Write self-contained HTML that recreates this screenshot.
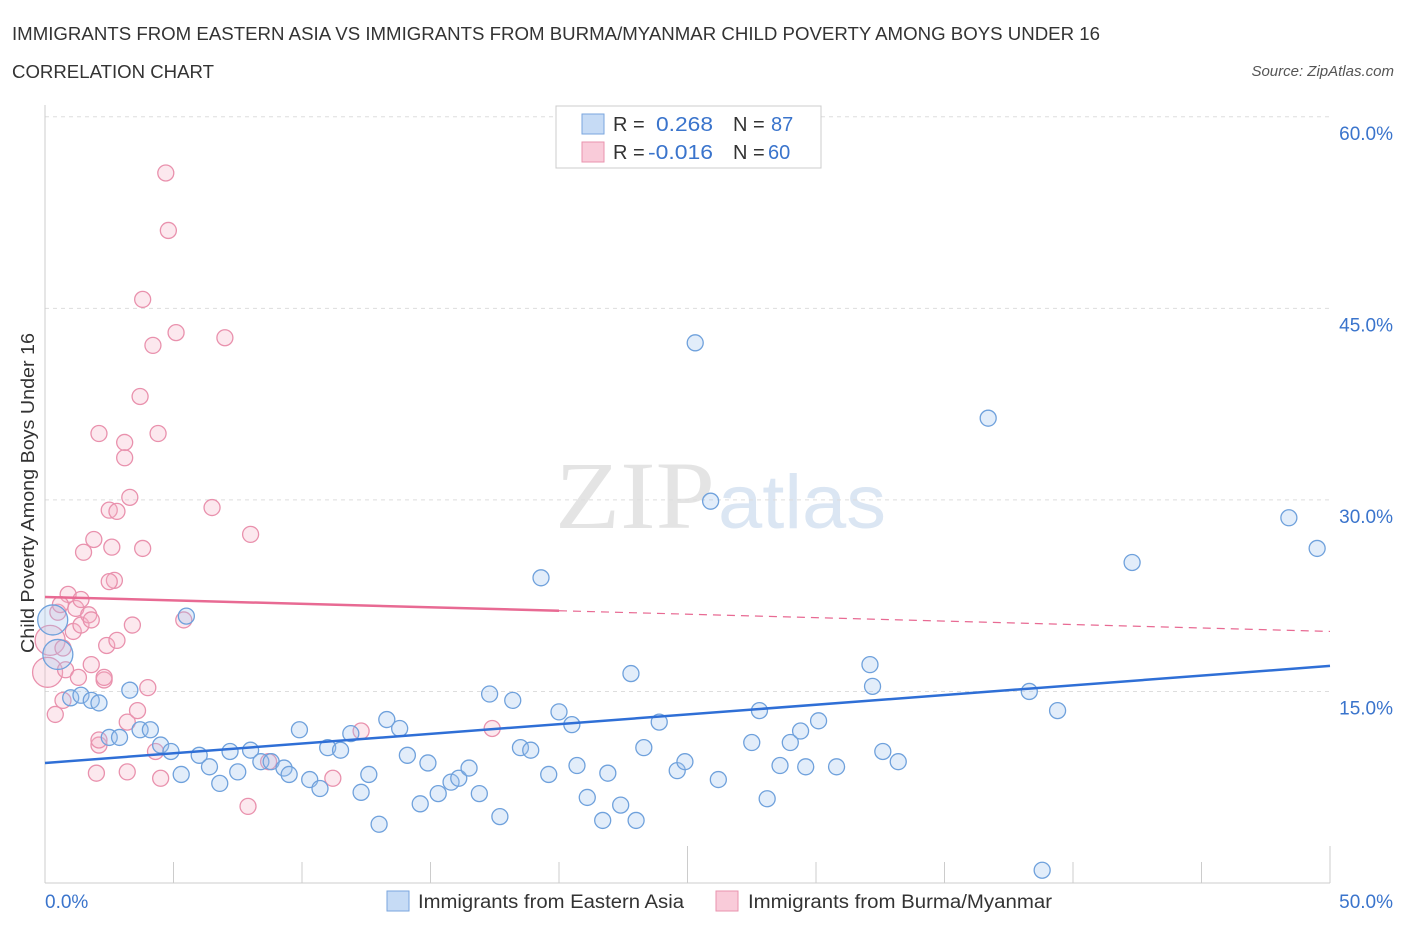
<!DOCTYPE html>
<html><head><meta charset="utf-8"><style>
body{margin:0;background:#fff;font-family:"Liberation Sans",sans-serif;}
</style></head><body>
<svg id="chart" width="1406" height="930" xmlns="http://www.w3.org/2000/svg" font-family="Liberation Sans, sans-serif">
<text x="12" y="40" font-size="18" fill="#333" textLength="1088" lengthAdjust="spacingAndGlyphs">IMMIGRANTS FROM EASTERN ASIA VS IMMIGRANTS FROM BURMA/MYANMAR CHILD POVERTY AMONG BOYS UNDER 16</text>
<text x="12" y="78" font-size="18" fill="#333" textLength="202" lengthAdjust="spacingAndGlyphs">CORRELATION CHART</text>
<text x="1394" y="76" font-size="15" fill="#555" font-style="italic" text-anchor="end">Source: ZipAtlas.com</text>
<text x="555" y="528" font-size="96" fill="#e4e4e4" font-family="Liberation Serif, serif" textLength="160" lengthAdjust="spacingAndGlyphs">ZIP</text>
<text x="718" y="528" font-size="76" fill="#dbe6f3" textLength="168" lengthAdjust="spacingAndGlyphs">atlas</text>
<text transform="translate(34,493) rotate(-90)" font-size="18" fill="#333" text-anchor="middle" textLength="320" lengthAdjust="spacingAndGlyphs">Child Poverty Among Boys Under 16</text>
<g id="grid"></g><g id="axes"></g><g id="pts"></g><g id="trend"></g>
<g>
<rect x="556" y="106" width="265" height="62" fill="#fff" stroke="#ccc"/>
<rect x="582" y="114" width="22" height="20" fill="#c6dbf5" stroke="#7aa6de"/>
<text x="613" y="131" font-size="20" fill="#333">R =</text><text x="656" y="131" font-size="20" fill="#3a74cc" textLength="57" lengthAdjust="spacingAndGlyphs">0.268</text>
<text x="733" y="131" font-size="20" fill="#333">N =</text><text x="771" y="131" font-size="20" fill="#3a74cc">87</text>
<rect x="582" y="142" width="22" height="20" fill="#f9cbd9" stroke="#e993ae"/>
<text x="613" y="159" font-size="20" fill="#333">R =</text><text x="648" y="159" font-size="20" fill="#3a74cc" textLength="65" lengthAdjust="spacingAndGlyphs">-0.016</text>
<text x="733" y="159" font-size="20" fill="#333">N =</text><text x="768" y="159" font-size="20" fill="#3a74cc">60</text>
</g>
<g>
<rect x="387" y="891" width="22" height="20" fill="#c6dbf5" stroke="#7aa6de"/>
<text x="418" y="908" font-size="19" fill="#333" textLength="266" lengthAdjust="spacingAndGlyphs">Immigrants from Eastern Asia</text>
<rect x="716" y="891" width="22" height="20" fill="#f9cbd9" stroke="#e993ae"/>
<text x="748" y="908" font-size="19" fill="#333" textLength="304" lengthAdjust="spacingAndGlyphs">Immigrants from Burma/Myanmar</text>
</g>
</svg>
<script>
const blueX=[0.3,0.5,1.0,1.4,1.8,2.1,2.5,2.9,3.3,3.7,4.1,4.5,4.9,5.3,5.5,6.0,6.4,6.8,7.2,7.5,8.0,8.4,8.8,9.3,9.5,9.9,10.3,10.7,11.0,11.5,11.9,12.3,12.6,13.0,13.3,13.8,14.1,14.6,14.9,15.3,15.8,16.1,16.5,16.9,17.3,17.7,18.2,18.5,18.9,19.3,19.6,20.0,20.5,20.7,21.1,21.7,21.9,22.4,22.8,23.0,23.3,23.9,24.6,24.9,25.3,25.9,26.2,27.5,27.8,28.1,28.6,29.0,29.4,29.6,30.1,30.8,32.1,32.2,32.6,33.2,36.7,38.3,38.8,39.4,42.3,48.4,49.5];
const blueY=[20.6,17.9,14.5,14.7,14.3,14.1,11.4,11.4,15.1,12.0,12.0,10.8,10.3,8.5,20.9,10.0,9.1,7.8,10.3,8.7,10.4,9.5,9.5,9.0,8.5,12.0,8.1,7.4,10.6,10.4,11.7,7.1,8.5,4.6,12.8,12.1,10.0,6.2,9.4,7.0,7.9,8.2,9.0,7.0,14.8,5.2,14.3,10.6,10.4,23.9,8.5,13.4,12.4,9.2,6.7,4.9,8.6,6.1,16.4,4.9,10.6,12.6,8.8,9.5,42.3,29.9,8.1,11.0,13.5,6.6,9.2,11.0,11.9,9.1,12.7,9.1,17.1,15.4,10.3,9.5,36.4,15.0,1.0,13.5,25.1,28.6,26.2];
const pinkX=[0.2,0.1,0.4,0.5,0.7,0.8,0.9,1.1,1.2,1.3,1.4,1.5,1.7,1.8,1.8,1.9,2.0,2.1,2.1,2.3,2.3,2.4,2.5,2.6,2.7,2.8,2.8,3.1,3.1,3.2,3.2,3.3,3.4,3.6,3.7,3.8,3.8,4.0,4.2,4.3,4.4,4.5,4.7,4.8,5.1,5.4,6.5,7.0,7.9,8.0,8.7,11.2,12.3,17.4,1.4,0.6,2.5,2.1,0.7];
const pinkY=[19.0,16.5,13.2,21.2,18.4,16.7,22.6,19.7,21.5,16.1,20.2,25.9,21.0,20.6,17.1,26.9,8.6,10.8,35.2,15.9,16.1,18.6,29.2,26.3,23.7,19.0,29.1,34.5,33.3,12.6,8.7,30.2,20.2,13.5,38.1,45.7,26.2,15.3,42.1,10.3,35.2,8.2,55.6,51.1,43.1,20.6,29.4,42.7,6.0,27.3,9.5,8.2,11.9,12.1,22.2,21.8,23.6,11.2,14.3];
const blueTrend=[9.4,17.0];
const pinkTrend=[22.4,19.7];
const xTicks=[0,50];
const yTicks=[15,30,45,60];
const NS='http://www.w3.org/2000/svg';
const X=v=>45+v*25.7, Y=v=>883-v*12.77;
function mk(t,a,p){const e=document.createElementNS(NS,t);for(const k in a)e.setAttribute(k,a[k]);document.getElementById(p).appendChild(e);return e;}
yTicks.forEach(v=>{
 const l=mk('line',{x1:45,x2:1330,y1:Y(v),y2:Y(v),stroke:'#ddd','stroke-dasharray':'4,4'},'grid');
 
 
 const t=mk('text',{x:1393,y:Y(v)+23,'font-size':19,fill:'#3a74cc','text-anchor':'end'},'axes');t.textContent=v.toFixed(1)+'%';
 
 
});
mk('line',{x1:45,x2:45,y1:105,y2:883,stroke:'#ccc'},'axes');
mk('line',{x1:45,x2:1330,y1:883,y2:883,stroke:'#ccc'},'axes');
for(let i=0;i<=10;i++){const l=mk('line',{x1:X(i*5),x2:X(i*5),y1:i%5==0?846:862,y2:883,stroke:'#ccc'},'axes');
 
 }
xTicks.forEach((v,i)=>{const t=mk('text',{x:i?1393:45,y:908,'font-size':19,fill:'#3a74cc','text-anchor':i?'end':'start'},'axes');t.textContent=v.toFixed(1)+'%';
 
 });
function pts(xs,ys,fill,stroke,name){xs.forEach((x,i)=>{const c=mk('circle',{cx:X(x),cy:Y(ys[i]),r:i<2?15:8,fill:fill,stroke:stroke,'stroke-width':1.3},'pts');
 
 });}
pts(pinkX,pinkY,'rgba(246,180,200,0.3)','#e991ad','pink-point');
pts(blueX,blueY,'rgba(160,195,240,0.3)','#6fa1dc','blue-point');
const bl=mk('line',{x1:X(0),y1:Y(blueTrend[0]),x2:X(50),y2:Y(blueTrend[1]),stroke:'#2f6fd6','stroke-width':2.5},'trend');


const pm=v=>pinkTrend[0]+(pinkTrend[1]-pinkTrend[0])*v/50;
const pl=mk('line',{x1:X(0),y1:Y(pm(0)),x2:X(20),y2:Y(pm(20)),stroke:'#e86a93','stroke-width':2.5},'trend');


const pd=mk('line',{x1:X(20),y1:Y(pm(20)),x2:X(50),y2:Y(pm(50)),stroke:'#e86a93','stroke-width':1.2,'stroke-dasharray':'8,6'},'trend');


</script>
</body></html>
